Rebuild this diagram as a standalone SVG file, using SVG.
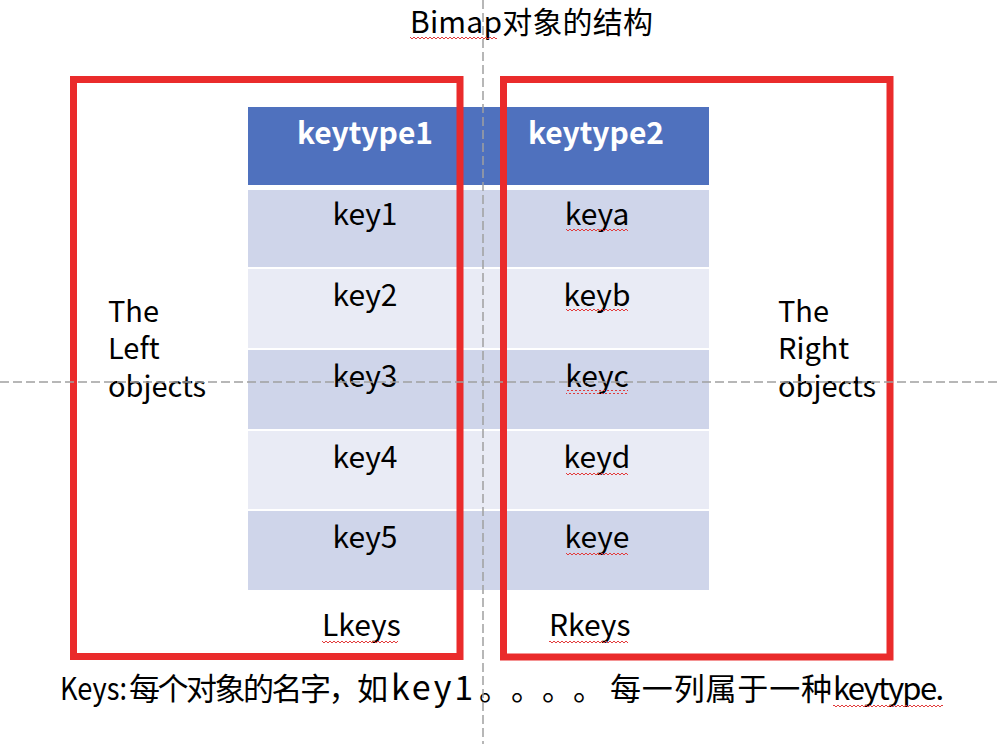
<svg xmlns="http://www.w3.org/2000/svg" width="1000" height="744" viewBox="0 0 1000 744">
<defs>
<style>
text{font-family:"Noto Sans CJK SC","Noto Sans",sans-serif;fill:#000;font-size:30px}
.hd{font-weight:bold;fill:#fff;font-size:30px;text-anchor:middle}
.k{text-anchor:middle}
.side{font-size:29px}
.cap{font-size:31px}
.box{fill:none;stroke:#EA2B2B;stroke-width:7}
.guide{stroke:#A0A0A0;stroke-width:1.5;stroke-dasharray:9 4;fill:none}
.b1{fill:#CFD5EA}
.b2{fill:#E9EBF5}
</style>
<pattern id="sq" width="4" height="4" patternUnits="userSpaceOnUse">
<path d="M0 3 L2 1 L4 3" fill="none" stroke="#E23B3B" stroke-width="1"/>
</pattern>
</defs>
<rect width="1000" height="744" fill="#fff"/>

<g id="title">
<text x="410" y="33" font-size="29" textLength="243">Bimap对象的结构</text>
<rect x="410" y="36" width="87" height="4" fill="url(#sq)"/>
</g>

<g id="table">
<rect x="248" y="107" width="461" height="78" fill="#4F71BE"/>
<text class="hd" x="365" y="144">keytype1</text>
<text class="hd" x="596" y="144">keytype2</text>
<rect class="b1" x="248" y="190" width="461" height="77"/>
<rect class="b2" x="248" y="269" width="461" height="79"/>
<rect class="b1" x="248" y="350" width="461" height="79"/>
<rect class="b2" x="248" y="431" width="461" height="78"/>
<rect class="b1" x="248" y="511" width="461" height="79"/>
<text class="k" x="365" y="225">key1</text>
<text class="k" x="365" y="306">key2</text>
<text class="k" x="365" y="387">key3</text>
<text class="k" x="365" y="468">key4</text>
<text class="k" x="365" y="548">key5</text>
<text class="k" x="597" y="225">keya</text>
<text class="k" x="597" y="306">keyb</text>
<text class="k" x="597" y="387">keyc</text>
<text class="k" x="597" y="468">keyd</text>
<text class="k" x="597" y="548">keye</text>
<g fill="url(#sq)">
<rect x="566" y="228" width="62" height="4"/>
<rect x="566" y="309" width="62" height="4"/>
<rect x="566" y="390" width="62" height="4"/>
<rect x="566" y="471" width="62" height="4"/>
<rect x="566" y="551" width="62" height="4"/>
</g>
</g>

<g id="left-objects">
<rect class="box" x="73.5" y="79.5" width="386.5" height="577"/>
<text class="side" x="108" y="322">The</text>
<text class="side" x="108" y="359">Left</text>
<text class="side" x="108" y="397">objects</text>
<text x="322" y="636">Lkeys</text>
<rect x="322" y="639" width="76" height="4" fill="url(#sq)"/>
</g>

<g id="right-objects">
<rect class="box" x="503.5" y="79.5" width="386.5" height="577.5"/>
<text class="side" x="778" y="322">The</text>
<text class="side" x="778" y="359">Right</text>
<text class="side" x="778" y="397">objects</text>
<text x="549" y="636">Rkeys</text>
<rect x="549" y="639" width="79" height="4" fill="url(#sq)"/>
</g>

<g id="caption">
<text class="cap" y="700"><tspan x="60" textLength="67" lengthAdjust="spacingAndGlyphs">Keys:</tspan><tspan x="129" textLength="259">每个对象的名字，如</tspan><tspan x="391" font-size="34" textLength="82">key1</tspan><tspan x="479">。</tspan><tspan x="511">。</tspan><tspan x="542">。</tspan><tspan x="573">。</tspan><tspan x="610" textLength="222">每一列属于一种</tspan><tspan x="833" textLength="111">keytype.</tspan></text>
<rect x="833" y="704" width="110" height="4" fill="url(#sq)"/>
</g>

<g id="connectors">
<line class="guide" x1="483" y1="0" x2="483" y2="744"/>
<line class="guide" x1="0" y1="382" x2="1000" y2="382"/>
</g>
</svg>
